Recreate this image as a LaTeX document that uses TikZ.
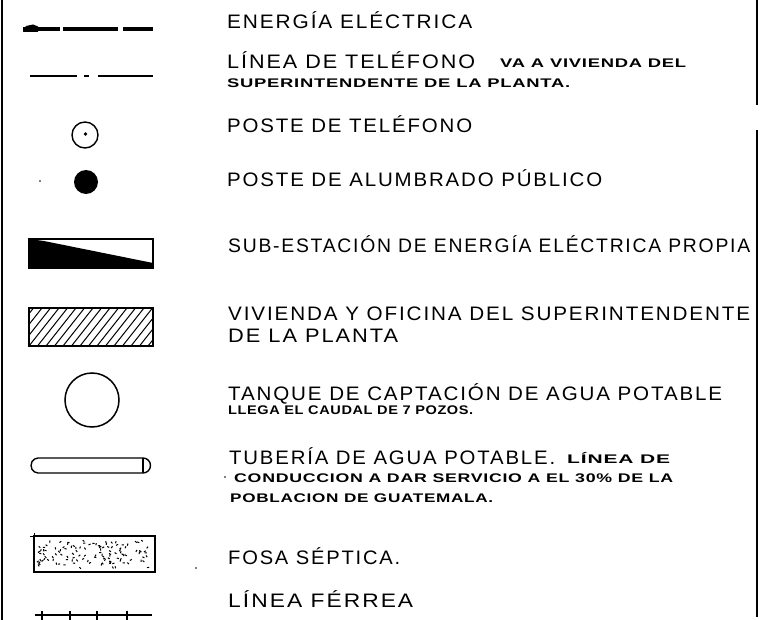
\documentclass[tikz,border=0pt]{standalone}
\usepackage{fontspec}
\setmainfont{Liberation Sans}
\newfontfamily\bigfont[LetterSpace=9]{Liberation Sans}
\newfontfamily\smallfont[LetterSpace=4]{Liberation Sans}
\usepackage{graphicx}
\newsavebox\fitbox
\newlength\fitlen
\newcommand\fitw[2]{\sbox\fitbox{#2}\setlength\fitlen{\wd\fitbox}\pgfmathsetmacro\fitfac{#1/\fitlen}\scalebox{\fitfac}[1]{\usebox\fitbox}}
\tikzset{
  big/.style={inner sep=0pt, anchor=base west, font=\bigfont\fontsize{19.5}{19.5}\selectfont},
  small/.style={inner sep=0pt, anchor=base west, font=\smallfont\fontsize{12.5}{12.5}\selectfont\bfseries},
  sym/.style={line width=1.4pt},
}
\begin{document}
\begin{tikzpicture}[x=1pt,y=-1pt]
\useasboundingbox (0,0) rectangle (765,620);
% frame lines
\draw[line width=2pt] (2,0) -- (2,620);
\draw[line width=1.5pt] (757,0) -- (757,105);
\draw[line width=1.5pt] (757,130) -- (757,617);
% 1 energia electrica
\fill (23,32) -- (26,26) -- (33,24.5) -- (38,26.5) -- (38,32) -- cycle;
\draw[line width=4.5pt] (23,29) -- (60,29);
\draw[line width=4.5pt] (63,29) -- (118,29);
\draw[line width=4.5pt] (123,29) -- (153,29);
\node[big] (t1) at (227,29) {\fitw{245}{ENERGÍA ELÉCTRICA}};
% 2 linea de telefono
\draw[line width=2pt] (30,76) -- (77,76);
\draw[line width=2.5pt] (84,76) -- (89,76);
\draw[line width=2pt] (98,76) -- (153,76);
\node[big] (t2) at (227,69) {\fitw{248}{LÍNEA DE TELÉFONO}};
\node[small] (t2b) at (500,68) {\fitw{186}{VA A VIVIENDA DEL}};
\node[small] (t2c) at (227,88) {\fitw{343}{SUPERINTENDENTE DE LA PLANTA.}};
% 3 poste de telefono
\draw[sym] (85,135) circle (13);
\fill (85.5,134) circle (1.8);
\node[big] (t3) at (227,133) {\fitw{245}{POSTE DE TELÉFONO}};
% 4 poste de alumbrado
\fill (86,182) circle (12);
\fill (40,181) circle (0.9);
\node[big] (t4) at (227,187) {\fitw{375}{POSTE DE ALUMBRADO PÚBLICO}};
% 5 sub-estacion
\fill (29,239) -- (44,241) -- (153,263) -- (153,268) -- (29,268) -- cycle;
\draw[sym] (29,239) rectangle (153,268);
\node[big] (t5) at (228,252) {\fitw{522}{SUB-ESTACIÓN DE ENERGÍA ELÉCTRICA PROPIA}};
% 6 vivienda
\begin{scope}
\clip (29,308) rectangle (153,346);
\foreach \i in {-5,...,16} \draw[line width=1pt] (29+\i*8.5,346) -- ++(30,-38);
\end{scope}
\draw[line width=1.6pt] (29,308) rectangle (153,346);
\node[big] (t6) at (228,320) {\fitw{522}{VIVIENDA Y OFICINA DEL SUPERINTENDENTE}};
\node[big] (t6b) at (228,342) {\fitw{170}{DE LA PLANTA}};
% 7 tanque
\draw[line width=1.5pt] (92,400) circle (27);
\node[big] (t7) at (228,400) {\fitw{494}{TANQUE DE CAPTACIÓN DE AGUA POTABLE}};
\node[small] (t7b) at (228,414) {\fitw{245}{LLEGA EL CAUDAL DE 7 POZOS.}};
% 8 tuberia
\draw[sym, rounded corners=4pt] (143,458) -- (34,458) -- (30,465.5) -- (34,473) -- (143,473);
\draw[sym] (143,458) -- (143,473);
\draw[sym] (143,458) arc (-90:90:7.5 and 7.5);
\node[big] (t8) at (229,464) {\fitw{326}{TUBERÍA DE AGUA POTABLE.}};
\node[small] (t8a) at (567,463) {\fitw{103}{LÍNEA DE}};
\node[small] (t8b) at (234,482) {\fitw{439}{CONDUCCION A DAR SERVICIO A EL 30\% DE LA}};
\fill (225,477) circle (0.9);
\node[small] (t8c) at (230,502) {\fitw{263}{POBLACION DE GUATEMALA.}};
% 9 fosa septica
\pgfmathsetseed{11}
\foreach \k in {1,...,120}{
  \pgfmathsetmacro\px{38+rnd*113}
  \pgfmathsetmacro\py{540+rnd*28}
  \pgfmathsetmacro\pa{rnd*180}
  \draw[line width=1pt] (\px,\py) -- ++(\pa:2.2);
}
\draw[line width=1.6pt] (34,536) rectangle (155,572);
\draw[line width=1pt] (30,536) -- (38,536);
\draw[line width=1pt] (34,533) -- (34,540);
\fill (196,568) circle (0.9);
\node[big] (t9) at (228,564) {\fitw{172}{FOSA SÉPTICA.}};
\node[big] (t10) at (228,607) {\fitw{185}{LÍNEA FÉRREA}};
% 10 linea ferrea
\draw[sym] (35,615) -- (152,615);
\foreach \tx in {42,70,97,127} \draw[line width=1.2pt] (\tx,610.5) -- (\tx,619.5);
\end{tikzpicture}
\end{document}
